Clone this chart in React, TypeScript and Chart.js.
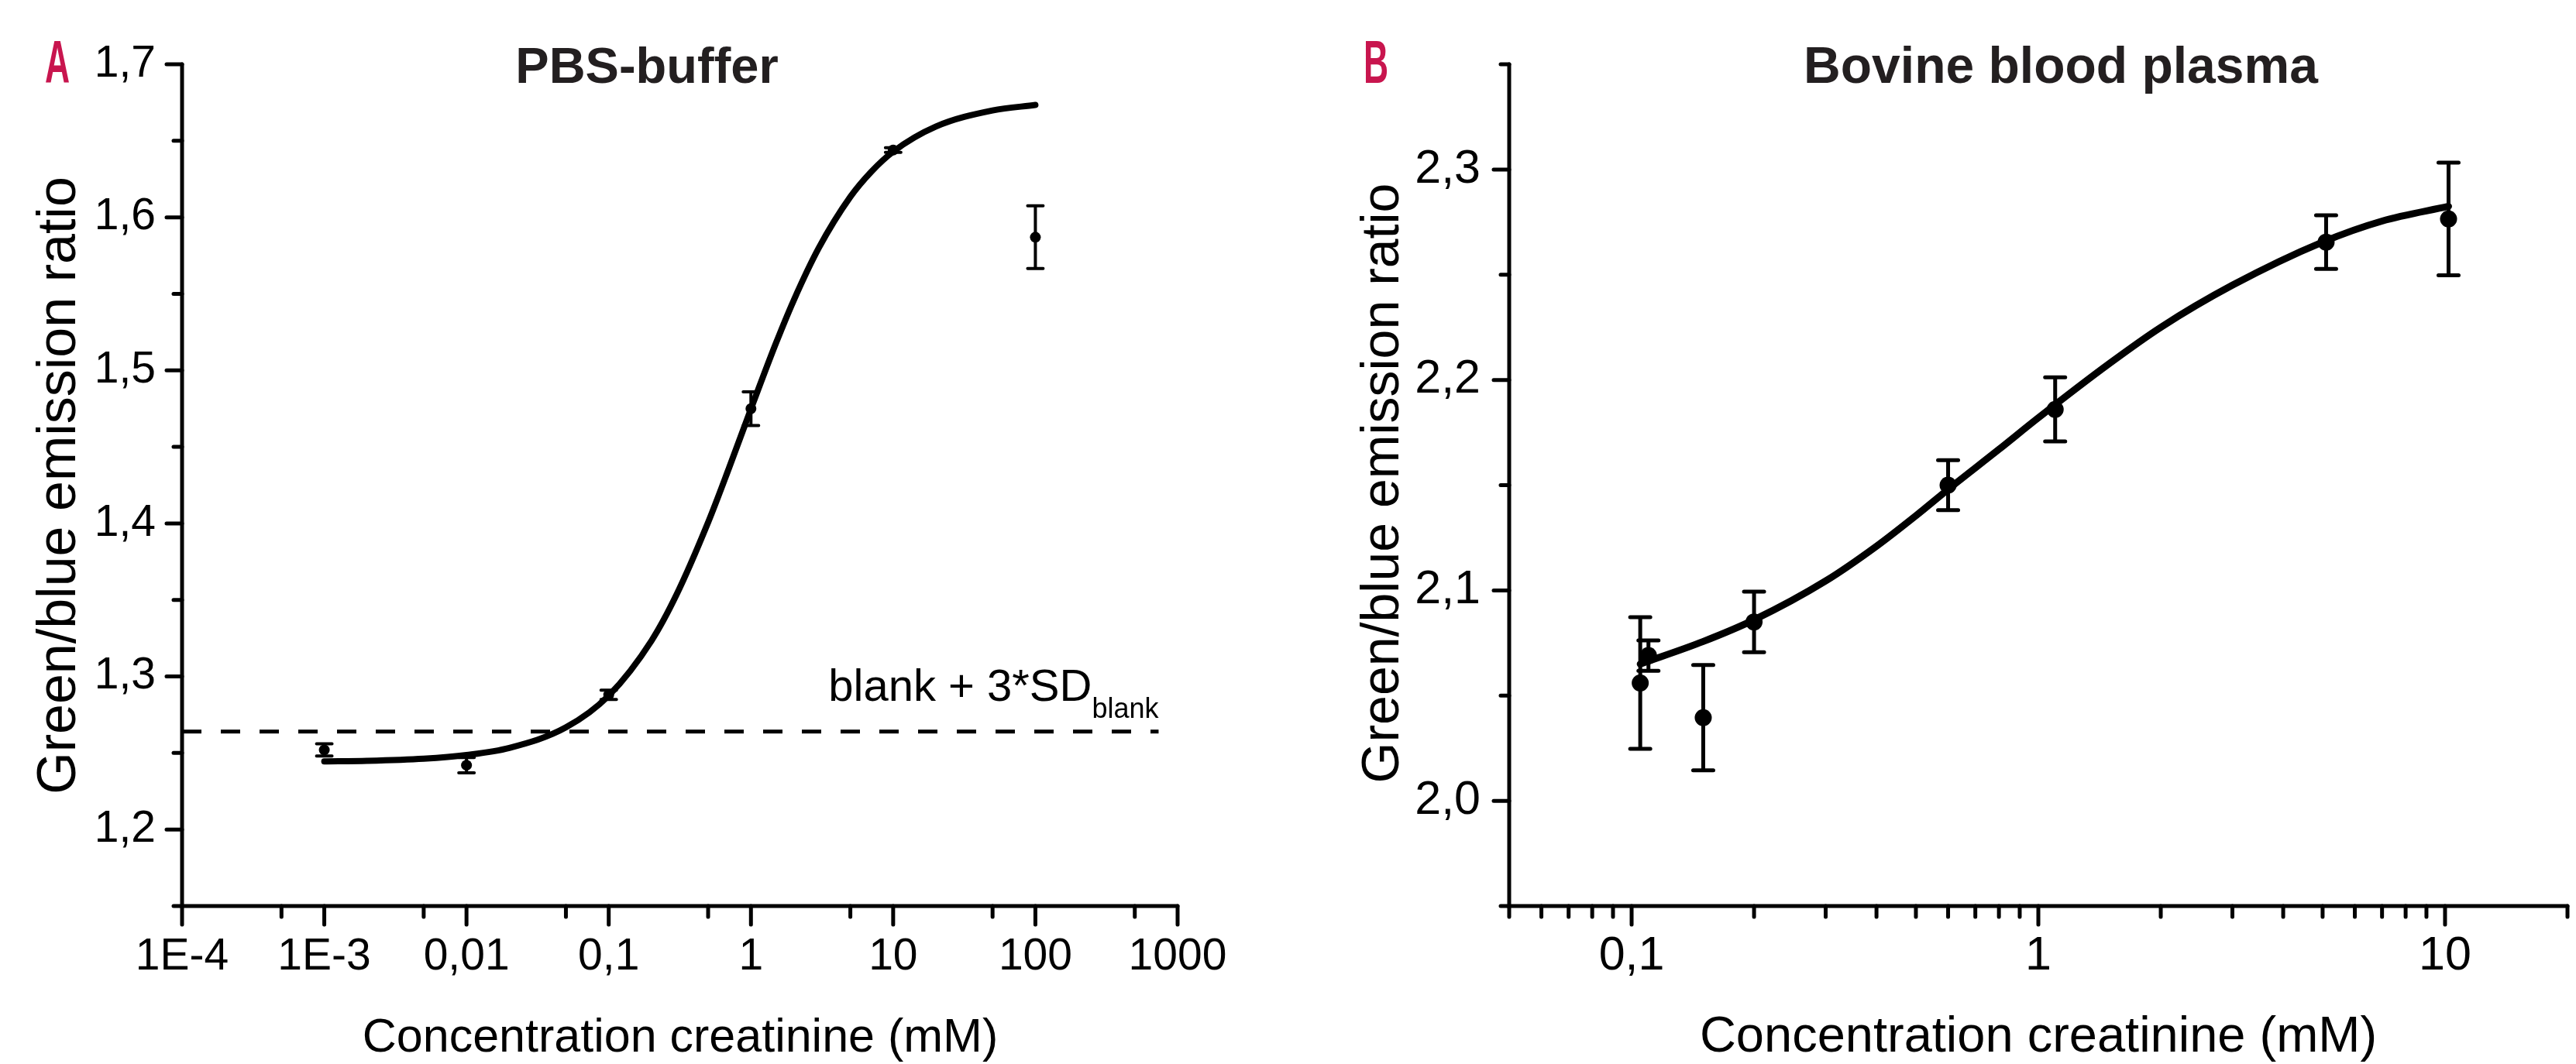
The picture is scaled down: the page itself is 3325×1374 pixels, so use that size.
import React, { useEffect, useRef } from 'react';
import { Chart, registerables } from 'chart.js';

Chart.register(...registerables);

const FONT = '"Liberation Sans", Arial, Helvetica, sans-serif';

// ---------- Panel A: PBS-buffer ----------
const concA = [0.001, 0.01, 0.1, 1, 10, 100];
const ratioA = [1.252, 1.242, 1.288, 1.475, 1.644, 1.587];
const errA = [0.004, 0.005, 0.003, 0.011, 0.0015, 0.0205];
const fitConcA = [0.001, 0.002, 0.005, 0.01, 0.02, 0.05, 0.1, 0.2, 0.3, 0.5, 0.7, 1, 1.5, 2, 3, 5, 7, 10, 20, 50, 100];
const fitRatioA = [1.2445, 1.2449, 1.2463, 1.2487, 1.2533, 1.2667, 1.2875, 1.3234, 1.3535, 1.4007, 1.436, 1.4748, 1.5178, 1.5458, 1.58, 1.6134, 1.6297, 1.6429, 1.6593, 1.6698, 1.6734];
const blankLimitA = 1.264;
const blankLineConcA = [0.0001, 735];
const xTicksA = [1e-4, 1e-3, 0.01, 0.1, 1, 10, 100, 1000];
const xTickLabelsA = ['1E-4', '1E-3', '0,01', '0,1', '1', '10', '100', '1000'];
const xMinorA = [5e-4, 5e-3, 0.05, 0.5, 5, 50, 500];
const yTicksA = [1.2, 1.3, 1.4, 1.5, 1.6, 1.7];
const yTickLabelsA = ['1,2', '1,3', '1,4', '1,5', '1,6', '1,7'];
const yMinorA = [1.15, 1.25, 1.35, 1.45, 1.55, 1.65];

// ---------- Panel B: Bovine blood plasma ----------
const concB = [0.105, 0.11, 0.15, 0.2, 0.6, 1.1, 5.1, 10.2];
const ratioB = [2.056, 2.069, 2.0395, 2.085, 2.15, 2.186, 2.2655, 2.2765];
const errB = [0.0313, 0.0072, 0.025, 0.0144, 0.0119, 0.0152, 0.0127, 0.0268];
const fitConcB = [0.105, 0.15, 0.2, 0.3, 0.4, 0.5, 0.6, 0.8, 1.0, 1.5, 2, 3, 5, 7, 10.2];
const fitRatioB = [2.065, 2.0757, 2.086, 2.1045, 2.121, 2.1355, 2.148, 2.167, 2.182, 2.208, 2.225, 2.245, 2.2655, 2.2755, 2.2825];
const xTicksB = [0.1, 1, 10];
const xTickLabelsB = ['0,1', '1', '10'];
const xMinorB = [0.05, 0.06, 0.07, 0.08, 0.09, 0.2, 0.3, 0.4, 0.5, 0.6, 0.7, 0.8, 0.9, 2, 3, 4, 5, 6, 7, 8, 9, 20];
const yTicksB = [2.0, 2.1, 2.2, 2.3];
const yTickLabelsB = ['2,0', '2,1', '2,2', '2,3'];
const yMinorB = [1.95, 2.05, 2.15, 2.25, 2.35];

type PanelCfg = {
  letter: string;
  letterX: number;
  title: string;
  titleX: number;
  titleSize: number;
  yTitleX: number;
  yTitleY: number;
  yTitleSize: number;
  xTitleX: number;
  xTitleSize: number;
  tickSize: number;
  yLabelPad: number;
  xLabelPad: number;
  axisWidth: number;
  padRight: number;
  xMin: number;
  xMax: number;
  yMin: number;
  yMax: number;
  xTicks: number[];
  xTickLabels: string[];
  xMinor: number[];
  yTicks: number[];
  yTickLabels: string[];
  yMinor: number[];
  conc: number[];
  ratio: number[];
  err: number[];
  fitConc: number[];
  fitRatio: number[];
  pointR: number;
  capHalf: number;
  barWidth: number;
  curveWidth: number;
  blank?: boolean;
};

function makePlugin(cfg: PanelCfg) {
  return {
    id: 'panelDecor',
    afterDatasetsDraw(chart: any) {
      const ctx = chart.ctx as CanvasRenderingContext2D;
      const xs = chart.scales.x;
      const ys = chart.scales.y;
      ctx.save();
      ctx.strokeStyle = '#000';
      ctx.lineWidth = cfg.barWidth;
      ctx.lineCap = 'round';
      for (let i = 0; i < cfg.conc.length; i++) {
        const px = xs.getPixelForValue(cfg.conc[i]);
        const p1 = ys.getPixelForValue(cfg.ratio[i] + cfg.err[i]);
        const p2 = ys.getPixelForValue(cfg.ratio[i] - cfg.err[i]);
        ctx.beginPath();
        ctx.moveTo(px, p1);
        ctx.lineTo(px, p2);
        ctx.moveTo(px - cfg.capHalf, p1);
        ctx.lineTo(px + cfg.capHalf, p1);
        ctx.moveTo(px - cfg.capHalf, p2);
        ctx.lineTo(px + cfg.capHalf, p2);
        ctx.stroke();
      }
      ctx.restore();
    },
    afterDraw(chart: any) {
      const ctx = chart.ctx as CanvasRenderingContext2D;
      const xs = chart.scales.x;
      const ys = chart.scales.y;
      const { left, right, top, bottom } = chart.chartArea;
      ctx.save();
      // axes
      ctx.strokeStyle = '#000';
      ctx.lineWidth = 5;
      ctx.lineCap = 'round';
      ctx.lineJoin = 'miter';
      ctx.beginPath();
      ctx.moveTo(left, top);
      ctx.lineTo(left, bottom);
      ctx.lineTo(right, bottom);
      ctx.stroke();
      ctx.beginPath();
      for (const v of cfg.yTicks) {
        const py = ys.getPixelForValue(v);
        ctx.moveTo(left - 20, py);
        ctx.lineTo(left, py);
      }
      for (const v of cfg.yMinor) {
        const py = ys.getPixelForValue(v);
        ctx.moveTo(left - 11, py);
        ctx.lineTo(left, py);
      }
      for (const v of cfg.xTicks) {
        const px = xs.getPixelForValue(v);
        ctx.moveTo(px, bottom);
        ctx.lineTo(px, bottom + 24);
      }
      for (const v of cfg.xMinor) {
        const px = xs.getPixelForValue(v);
        ctx.moveTo(px, bottom);
        ctx.lineTo(px, bottom + 14);
      }
      ctx.stroke();

      // panel letter (condensed bold, crimson)
      ctx.fillStyle = '#C8154E';
      ctx.font = `bold 78px ${FONT}`;
      ctx.textAlign = 'left';
      ctx.textBaseline = 'alphabetic';
      ctx.save();
      ctx.translate(cfg.letterX, 107);
      ctx.scale(0.57, 1);
      ctx.fillText(cfg.letter, 0, 0);
      ctx.restore();

      // title
      ctx.fillStyle = '#231F20';
      ctx.font = `bold ${cfg.titleSize}px ${FONT}`;
      ctx.textAlign = 'center';
      ctx.fillText(cfg.title, cfg.titleX, 107);

      // x axis title
      ctx.fillStyle = '#000';
      ctx.font = `${cfg.xTitleSize}px ${FONT}`;
      ctx.fillText('Concentration creatinine (mM)', cfg.xTitleX, 1358);

      // y axis title
      ctx.save();
      ctx.translate(cfg.yTitleX, cfg.yTitleY);
      ctx.rotate(-Math.PI / 2);
      ctx.font = `${cfg.yTitleSize}px ${FONT}`;
      ctx.textAlign = 'center';
      ctx.fillText('Green/blue emission ratio', 0, 0);
      ctx.restore();

      // blank annotation
      if (cfg.blank) {
        const lineY = ys.getPixelForValue(blankLimitA);
        const endX = xs.getPixelForValue(blankLineConcA[1]);
        ctx.textAlign = 'left';
        ctx.font = `58px ${FONT}`;
        const main = 'blank + 3*SD';
        const w1 = ctx.measureText(main).width;
        ctx.font = `36px ${FONT}`;
        const w2 = ctx.measureText('blank').width;
        const startX = endX - w1 - w2;
        ctx.font = `58px ${FONT}`;
        ctx.fillText(main, startX, lineY - 40);
        ctx.font = `36px ${FONT}`;
        ctx.fillText('blank', startX + w1, lineY - 18);
      }
      ctx.restore();
    },
  };
}

function buildConfig(cfg: PanelCfg): any {
  const datasets: any[] = [
    {
      type: 'scatter',
      data: cfg.fitConc.map((x, i) => ({ x, y: cfg.fitRatio[i] })),
      showLine: true,
      borderColor: '#000',
      borderWidth: cfg.curveWidth,
      borderCapStyle: 'round',
      pointRadius: 0,
      cubicInterpolationMode: 'monotone',
      fill: false,
      order: 1,
    },
    {
      type: 'scatter',
      data: cfg.conc.map((x, i) => ({ x, y: cfg.ratio[i] })),
      pointRadius: cfg.pointR,
      pointBackgroundColor: '#000',
      pointBorderWidth: 0,
      showLine: false,
      order: 2,
    },
  ];
  if (cfg.blank) {
    datasets.push({
      type: 'scatter',
      data: blankLineConcA.map((x) => ({ x, y: blankLimitA })),
      showLine: true,
      borderColor: '#000',
      borderWidth: 5,
      borderDash: [25, 25],
      pointRadius: 0,
      fill: false,
      order: 3,
    });
  }
  return {
    type: 'scatter',
    data: { datasets },
    options: {
      responsive: false,
      animation: false,
      devicePixelRatio: 1,
      layout: { padding: { top: 83, right: cfg.padRight, left: 0, bottom: 0 } },
      plugins: { legend: { display: false }, tooltip: { enabled: false }, title: { display: false } },
      scales: {
        x: {
          type: 'logarithmic',
          position: 'bottom',
          min: cfg.xMin,
          max: cfg.xMax,
          grid: { display: false, drawTicks: false },
          border: { display: false },
          afterBuildTicks: (s: any) => {
            s.ticks = cfg.xTicks.map((v) => ({ value: v }));
          },
          afterFit: (s: any) => {
            s.height = 204;
          },
          ticks: {
            autoSkip: false,
            maxRotation: 0,
            minRotation: 0,
            padding: cfg.xLabelPad,
            color: '#000',
            font: { family: FONT, size: cfg.tickSize },
            callback: (_v: any, i: number) => cfg.xTickLabels[i],
          },
        },
        y: {
          type: 'linear',
          position: 'left',
          min: cfg.yMin,
          max: cfg.yMax,
          grid: { display: false, drawTicks: false },
          border: { display: false },
          afterBuildTicks: (s: any) => {
            s.ticks = cfg.yTicks.map((v) => ({ value: v }));
          },
          afterFit: (s: any) => {
            s.width = cfg.axisWidth;
          },
          ticks: {
            autoSkip: false,
            padding: cfg.yLabelPad,
            color: '#000',
            font: { family: FONT, size: cfg.tickSize },
            callback: (_v: any, i: number) => cfg.yTickLabels[i],
          },
        },
      },
    },
    plugins: [makePlugin(cfg)],
  };
}

const panelA: PanelCfg = {
  letter: 'A',
  letterX: 58,
  title: 'PBS-buffer',
  titleX: 835,
  titleSize: 65,
  yTitleX: 97,
  yTitleY: 627,
  yTitleSize: 70,
  xTitleX: 878,
  xTitleSize: 61,
  tickSize: 57,
  yLabelPad: 34,
  xLabelPad: 32,
  axisWidth: 235,
  padRight: 142,
  xMin: 1e-4,
  xMax: 1000,
  yMin: 1.15,
  yMax: 1.7,
  xTicks: xTicksA,
  xTickLabels: xTickLabelsA,
  xMinor: xMinorA,
  yTicks: yTicksA,
  yTickLabels: yTickLabelsA,
  yMinor: yMinorA,
  conc: concA,
  ratio: ratioA,
  err: errA,
  fitConc: fitConcA,
  fitRatio: fitRatioA,
  pointR: 7,
  capHalf: 10,
  barWidth: 4,
  curveWidth: 8,
  blank: true,
};

const panelB: PanelCfg = {
  letter: 'B',
  letterX: 98,
  title: 'Bovine blood plasma',
  titleX: 998,
  titleSize: 66,
  yTitleX: 143,
  yTitleY: 624,
  yTitleSize: 68,
  xTitleX: 969,
  xTitleSize: 65,
  tickSize: 61,
  yLabelPad: 37,
  xLabelPad: 29,
  axisWidth: 286,
  padRight: 9,
  xMin: 0.05,
  xMax: 20,
  yMin: 1.95,
  yMax: 2.35,
  xTicks: xTicksB,
  xTickLabels: xTickLabelsB,
  xMinor: xMinorB,
  yTicks: yTicksB,
  yTickLabels: yTickLabelsB,
  yMinor: yMinorB,
  conc: concB,
  ratio: ratioB,
  err: errB,
  fitConc: fitConcB,
  fitRatio: fitRatioB,
  pointR: 11,
  capHalf: 13,
  barWidth: 5,
  curveWidth: 9,
};

function Panel({ cfg, left, width }: { cfg: PanelCfg; left: number; width: number }) {
  const ref = useRef<HTMLCanvasElement | null>(null);
  useEffect(() => {
    if (!ref.current) return;
    const chart = new Chart(ref.current, buildConfig(cfg));
    return () => chart.destroy();
  }, [cfg]);
  return (
    <canvas
      ref={ref}
      width={width}
      height={1374}
      style={{ position: 'absolute', left, top: 0, width, height: 1374, display: 'block' }}
    />
  );
}

export default function App() {
  return (
    <div style={{ position: 'absolute', left: 0, top: 0, width: 3325, height: 1374, background: '#fff', overflow: 'hidden' }}>
      <Panel cfg={panelA} left={0} width={1662} />
      <Panel cfg={panelB} left={1662} width={1663} />
    </div>
  );
}
